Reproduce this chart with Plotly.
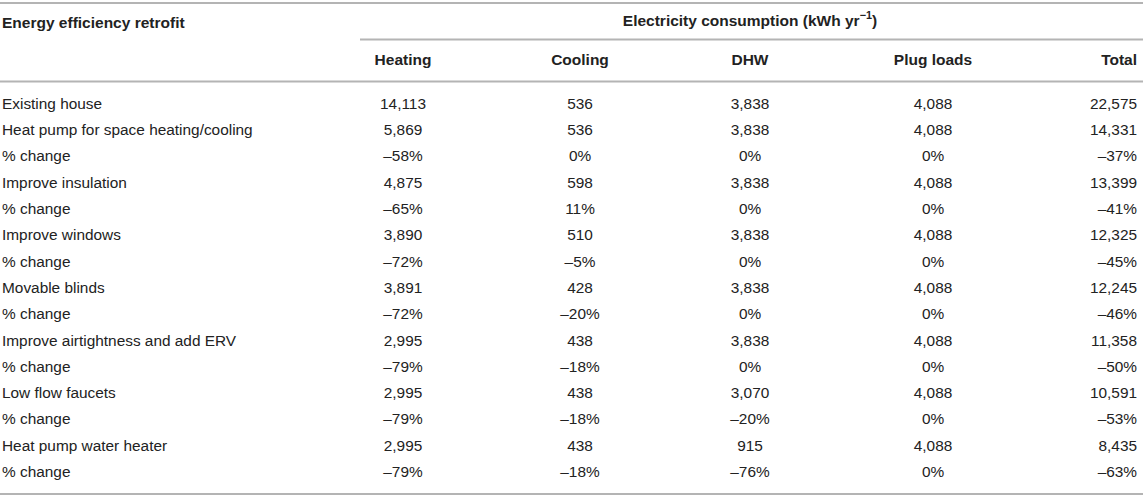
import plotly.graph_objects as go

# Données du tableau
retrofits = [
    "Existing house",
    "Heat pump for space heating/cooling",
    "Improve insulation",
    "Improve windows",
    "Movable blinds",
    "Improve airtightness and add ERV",
    "Low flow faucets",
    "Heat pump water heater",
]
columns = ["Heating", "Cooling", "DHW", "Plug loads", "Total"]

heating = [14113, 5869, 4875, 3890, 3891, 2995, 2995, 2995]
cooling = [536, 536, 598, 510, 428, 438, 438, 438]
dhw = [3838, 3838, 3838, 3838, 3838, 3838, 3070, 915]
plug_loads = [4088, 4088, 4088, 4088, 4088, 4088, 4088, 4088]
total = [22575, 14331, 13399, 12325, 12245, 11358, 10591, 8435]

# % change (lignes sous chaque mesure, sauf la maison existante)
heating_pct = [-58, -65, -72, -72, -79, -79, -79]
cooling_pct = [0, 11, -5, -20, -18, -18, -18]
dhw_pct = [0, 0, 0, 0, 0, -20, -76]
plug_loads_pct = [0, 0, 0, 0, 0, 0, 0]
total_pct = [-37, -41, -45, -46, -50, -53, -63]

# Mise en page (pixels)
W, H = 1143, 497
FONT = "Liberation Sans, Arial, Helvetica, sans-serif"
TXT = "#222222"
RULE = "#b4b4b4"
BODY_SIZE, HEAD_SIZE = 15.4, 15.5
col_x = [403, 580, 750, 933, 1137]
col_pos = ["middle center"] * 4 + ["middle left"]
row0, row_step = 105, 26.3


def fmt_num(v):
    return f"{v:,}"


def fmt_pct(v):
    return ("\u2013" if v < 0 else "") + f"{abs(v)}%"


# Construire les lignes
labels, cells = [], []
values = [heating, cooling, dhw, plug_loads, total]
pcts = [heating_pct, cooling_pct, dhw_pct, plug_loads_pct, total_pct]
for i, name in enumerate(retrofits):
    labels.append(name)
    cells.append([fmt_num(col[i]) for col in values])
    if i > 0:
        labels.append("% change")
        cells.append([fmt_pct(col[i - 1]) for col in pcts])

row_y = [row0 + row_step * r for r in range(len(labels))]

fig = go.Figure()

fig.add_trace(go.Scatter(
    x=[2] * len(labels), y=row_y, text=labels, mode="text",
    textposition="middle right", textfont=dict(family=FONT, size=BODY_SIZE, color=TXT),
    hoverinfo="skip", showlegend=False,
))
for c in range(len(columns)):
    fig.add_trace(go.Scatter(
        x=[col_x[c]] * len(cells), y=row_y, text=[row[c] for row in cells],
        mode="text", textposition=col_pos[c],
        textfont=dict(family=FONT, size=BODY_SIZE, color=TXT),
        hoverinfo="skip", showlegend=False,
    ))

# En-têtes
fig.add_trace(go.Scatter(
    x=[2], y=[24], text=["<b>Energy efficiency retrofit</b>"], mode="text",
    textposition="middle right", textfont=dict(family=FONT, size=HEAD_SIZE, color=TXT),
    hoverinfo="skip", showlegend=False,
))
fig.add_trace(go.Scatter(
    x=[750], y=[22], text=["<b>Electricity consumption (kWh yr<sup>\u22121</sup>)</b>"],
    mode="text", textposition="middle center",
    textfont=dict(family=FONT, size=HEAD_SIZE, color=TXT),
    hoverinfo="skip", showlegend=False,
))
for c, name in enumerate(columns):
    fig.add_trace(go.Scatter(
        x=[col_x[c]], y=[61], text=[f"<b>{name}</b>"], mode="text",
        textposition=col_pos[c], textfont=dict(family=FONT, size=HEAD_SIZE, color=TXT),
        hoverinfo="skip", showlegend=False,
    ))

# Filets horizontaux
for x0, x1, y in [(0, W, 3), (360, W, 39.5), (0, W, 81.5), (0, W, 494)]:
    fig.add_shape(type="line", x0=x0, x1=x1, y0=y, y1=y, xref="x", yref="y",
                  line=dict(color=RULE, width=2))

fig.update_layout(
    width=W, height=H,
    margin=dict(l=0, r=0, t=0, b=0),
    paper_bgcolor="white", plot_bgcolor="white",
    xaxis=dict(range=[0, W], visible=False, fixedrange=True),
    yaxis=dict(range=[H, 0], visible=False, fixedrange=True),
)

fig.write_html(
    "out.html",
    config={"displayModeBar": False},
    post_script="document.body.style.margin='0';document.body.style.overflow='hidden';",
)
